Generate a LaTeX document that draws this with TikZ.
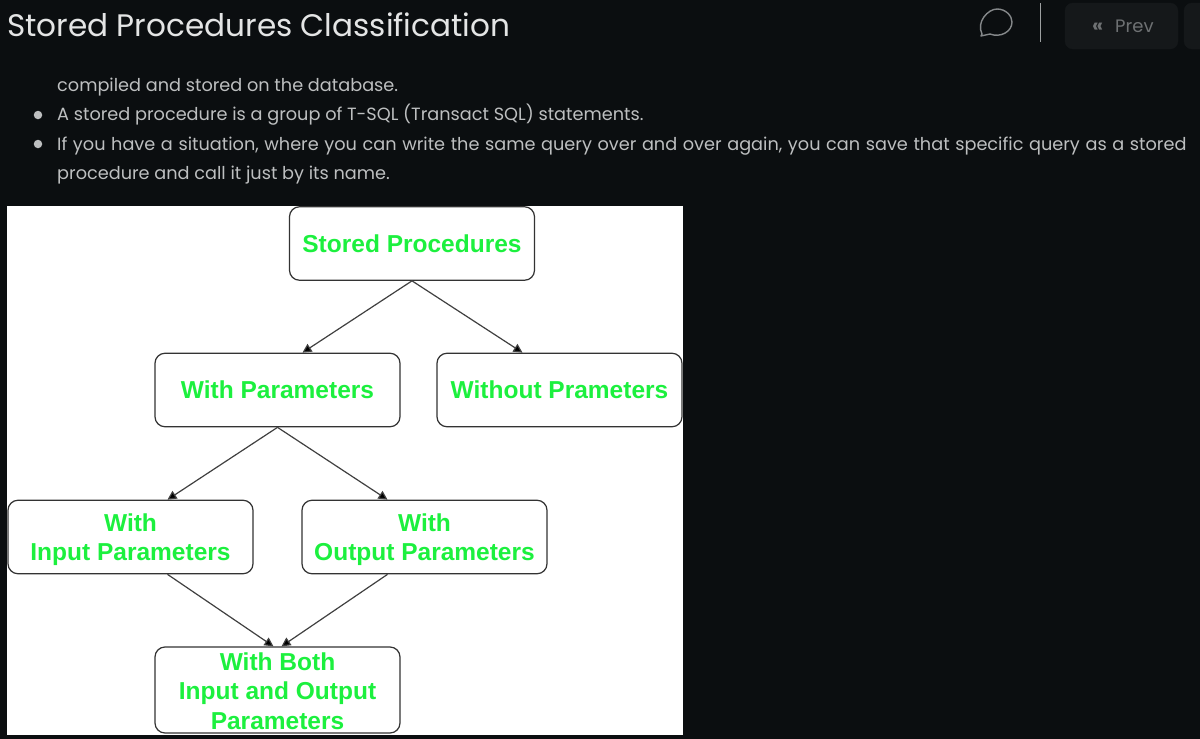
\documentclass[tikz,border=0pt]{standalone}
\usepackage{fontspec}
\setmainfont{Poppins}
\newfontfamily\diagfont{Liberation Sans}
\usetikzlibrary{arrows.meta,calc}
\definecolor{pagebg}{HTML}{0B0E10}
\definecolor{bodytxt}{HTML}{BDBFC0}
\definecolor{titletxt}{HTML}{E4E5E5}
\definecolor{nodegreen}{HTML}{1CF03E}
\definecolor{iconcol}{HTML}{85888A}
\definecolor{btnbg}{HTML}{15181A}
\definecolor{btntxt}{HTML}{6E7173}
\tikzset{x=1pt,y=-1pt,
  box/.style={draw=black!80,line width=1.2pt,rounded corners=10pt,fill=white,minimum width=245pt,minimum height=73.5pt,inner sep=0pt,align=center,text=nodegreen,font=\diagfont\bfseries\fontsize{24.5}{29.5}\selectfont},
  conn/.style={draw=black!75,line width=1.2pt,-{Triangle[length=9pt,width=9pt,fill=black]}},
  bodyline/.style={anchor=base west,inner sep=0pt,text=bodytxt,font=\fontsize{17.7}{22}\selectfont},
  bullet/.style={circle,fill=bodytxt,minimum size=8.5pt,inner sep=0pt}}
\begin{document}
\begin{tikzpicture}
\useasboundingbox (0,0) rectangle (1200,739);
\fill[pagebg] (0,0) rectangle (1200,739);
\node[anchor=base west,inner sep=0pt,text=titletxt,font=\fontsize{31.1}{38}\selectfont] (title) at (7,36) {Stored Procedures Classification};
\draw[iconcol,line width=1.4pt,line join=round] (982,34) .. controls (976,22) and (988,9) .. (997,9) .. controls (1006,9) and (1012,16) .. (1012,22) .. controls (1012,32) and (1000,38) .. (990,34) -- (981,36) -- cycle;
\draw[iconcol!80,line width=1pt] (1040.5,3) -- (1040.5,42);
\draw[btnbg,fill=btnbg,rounded corners=8pt] (1065,3) rectangle (1178,49);
\draw[btnbg,fill=btnbg,rounded corners=8pt] (1184,3) rectangle (1215,49);
\node[anchor=base west,inner sep=0pt,text=btntxt,font=\bfseries\fontsize{20}{20}\selectfont] (chev) at (1092,32) {«};
\node[anchor=base west,inner sep=0pt,text=btntxt,font=\fontsize{18}{20}\selectfont] (prev) at (1115,32) {Prev};
\node[bodyline] (l1) at (57,91) {compiled and stored on the database.};
\node[bullet] (b1) at (38,115) {};
\node[bodyline] (l2) at (57,120) {A stored procedure is a group of T-SQL (Transact SQL) statements.};
\node[bullet] (b2) at (38,144) {};
\node[bodyline] (l3) at (57,150) {\spaceskip=5.6pt If you have a situation, where you can write the same query over and over again, you can save that specific query as a stored};
\node[bodyline] (l4) at (57,179) {procedure and call it just by its name.};
\fill[white] (7,206) rectangle (683,735);
\node[box] (sp) at (412,243.5) {Stored Procedures};
\node[box] (wp) at (277.5,390) {With Parameters};
\node[box] (wop) at (559.5,390) {Without Prameters};
\node[box] (wi) at (130.5,537) {\rule{0pt}{23pt}With\\Input Parameters};
\node[box] (wo) at (424.5,537) {\rule{0pt}{23pt}With\\Output Parameters};
\node[box,minimum height=86pt] (wb) at (277.5,690) {\rule{0pt}{20pt}With Both\\Input and Output\\Parameters};
\draw[conn] (sp.south) -- ([xshift=25pt]wp.north);
\draw[conn] (sp.south) -- ([xshift=-37pt]wop.north);
\draw[conn] (wp.south) -- ([xshift=37pt]wi.north);
\draw[conn] (wp.south) -- ([xshift=-37pt]wo.north);
\draw[conn] ([xshift=37pt]wi.south) -- ([xshift=-4pt]wb.north);
\draw[conn] ([xshift=-37pt]wo.south) -- ([xshift=4pt]wb.north);
\end{tikzpicture}
\end{document}
